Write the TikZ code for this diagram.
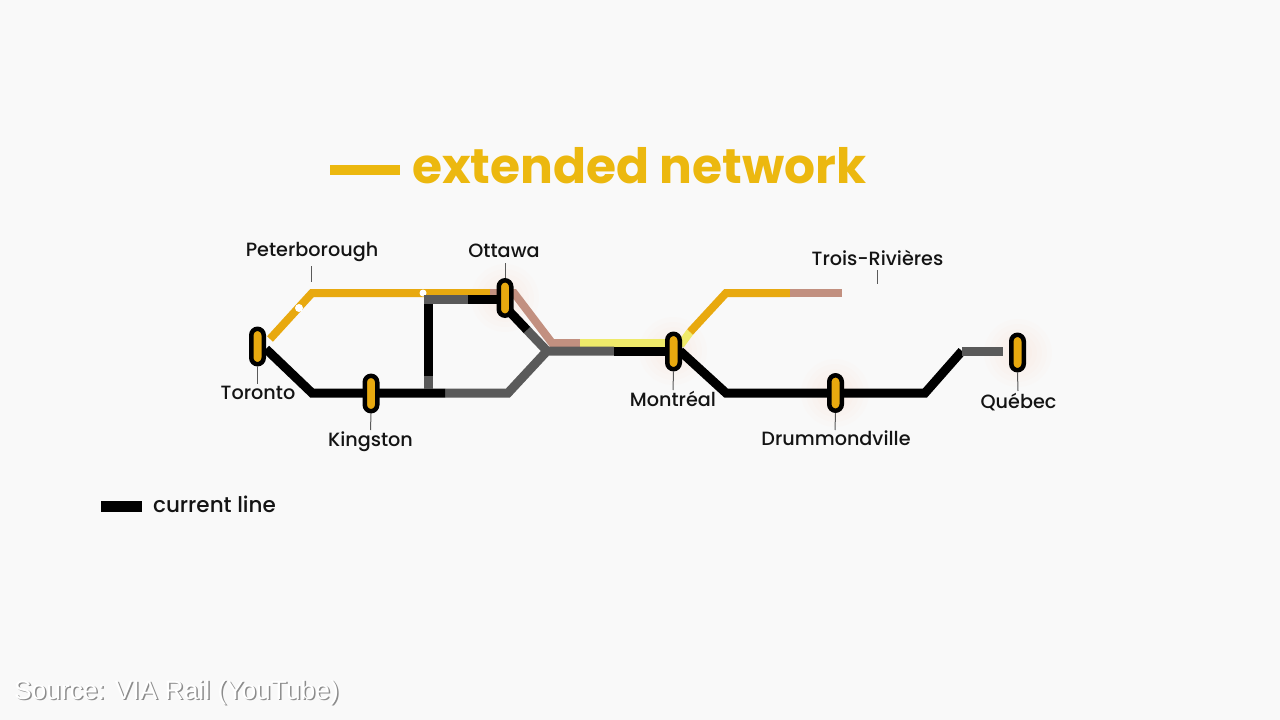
\documentclass[tikz,border=0pt]{standalone}
\usepackage{fontspec}
\setmainfont{Poppins}
\newfontfamily\medfont{Poppins Medium}
\newfontfamily\titlefont{Poppins}[UprightFont=*-Bold]
\newfontfamily\srcfont{Liberation Sans}
\definecolor{pagebg}{HTML}{F9F9F9}
\definecolor{gold}{HTML}{E8A90F}
\definecolor{titlegold}{HTML}{ECB80F}
\definecolor{pinkish}{HTML}{C29080}
\definecolor{paleyellow}{HTML}{EFEA6A}
\definecolor{greyline}{HTML}{5A5A5A}
\definecolor{ink}{HTML}{141414}
\tikzset{
  x=1pt,y=-1pt,
  rail/.style={line width=8pt,line join=miter},
  blackrail/.style={rail,draw=black,line width=9pt},
  greyrail/.style={rail,draw=greyline,line width=9pt},
  goldrail/.style={rail,draw=gold},
  pinkrail/.style={rail,draw=pinkish},
  yellowrail/.style={rail,draw=paleyellow},
  station/.style={draw=black,line width=4.5pt,fill=gold,rounded corners=6.5pt,minimum width=12.5pt,minimum height=35.5pt,inner sep=0pt},
  place/.style={text=ink,font=\medfont\fontsize{19.2}{22}\selectfont,inner sep=0pt,anchor=base},
  tick/.style={draw=greyline,line width=1pt},
  halo/.style={fill=orange,opacity=0.012,draw=none,circle,minimum size=#1,inner sep=0pt},
  spot/.style={fill=white,draw=none,circle,minimum size=8pt,inner sep=0pt}
}
\begin{document}
\begin{tikzpicture}
\fill[pagebg] (0,0) rectangle (1280,720);
\useasboundingbox (0,0) rectangle (1280,720);
% coordinates
\coordinate (tA) at (266,349);
\coordinate (tB) at (312,393);
\coordinate (jK) at (445,393);
\coordinate (jC) at (508,393);
\coordinate (jM) at (547,351);
\coordinate (mA) at (614,351);
\coordinate (mB) at (680,351);
\coordinate (dA) at (726,393);
\coordinate (dB) at (925,393);
\coordinate (qA) at (962,351);
\coordinate (qB) at (1003,351);
\coordinate (vG) at (428,389);
\coordinate (vH) at (428,376);
\coordinate (vT) at (428,299);
\coordinate (oG) at (468,299);
\coordinate (oS) at (509,311);
\coordinate (oA) at (527,330);
\coordinate (gA) at (270,339);
\coordinate (gB) at (312,293);
\coordinate (gC) at (490,293);
\coordinate (pT) at (514,293);
\coordinate (pA) at (552,343);
\coordinate (pB) at (580,343);
\coordinate (yB) at (682,343);
\coordinate (yC) at (690,332);
\coordinate (rA) at (726,293);
\coordinate (rB) at (790,293);
\coordinate (rC) at (842,293);
% soft glows
\foreach \p/\n in {505/298,673/351,835/393,1018/353}{
  \foreach \s in {28,38,48,58,68}{\node[halo=\s] at (\p,\n) {};}
}
% extended network
\draw[goldrail] (gA) -- (gB) -- (gC);
\draw[pinkrail] (gC) -- (pT) -- (pA) -- (pB);
\draw[yellowrail] (pB) -- (yB) -- (yC);
\draw[goldrail] (yC) -- (rA) -- (rB);
\draw[pinkrail] (rB) -- (rC);
\node[spot] (s1) at (299,308) {};
\node[spot,minimum size=7pt] (s2) at (423,293) {};
% current line
\draw[greyrail] (jK) -- (jC) -- (jM) -- (mA);
\draw[greyrail] (oA) -- (jM);
\draw[blackrail] (tA) -- (tB) -- (jK);
\draw[greyrail] (vG) -- (vH);
\draw[blackrail] (vH) -- (vT);
\draw[greyrail] (423.5,299) -- (oG);
\draw[blackrail] (oG) -- (505,299);
\draw[blackrail] (oS) -- (oA);
\draw[blackrail] (mA) -- (673,351);
\draw[blackrail] (mB) -- (dA) -- (dB) -- (qA);
\draw[greyrail] (qA) -- (qB);
% stations
\node[station] (tor) at (257.5,346.5) {};
\node[station] (kin) at (371,393.5) {};
\node[station] (ott) at (505,298) {};
\node[station] (mon) at (673.5,351.5) {};
\node[station] (dru) at (835.5,393) {};
\node[station] (que) at (1017.5,352.5) {};
% labels
\node[place] (lPet) at (312,256) {Peterborough};
\node[place] (lOtt) at (504,257) {Ottawa};
\node[place] (lTor) at (258,399) {Toronto};
\node[place] (lKin) at (370.5,446) {Kingston};
\node[place] (lMon) at (673,406) {Montréal};
\node[place] (lDru) at (836,445) {Drummondville};
\node[place] (lQue) at (1018.5,408) {Québec};
\node[place] (lTro) at (877.5,265) {Trois-Rivières};
% ticks
\coordinate (k1) at (311.5,266); \coordinate (k2) at (311.5,282);
\draw[tick] (k1) -- (k2);
\coordinate (k3) at (877.5,270); \coordinate (k4) at (877.5,284);
\draw[tick] (k3) -- (k4);
\coordinate (k5) at (505,263);
\draw[tick] (k5) -- (ott.north);
\coordinate (k6) at (257.5,384);
\draw[tick] (tor.south) -- (k6);
\coordinate (k7) at (370.5,430);
\draw[tick] (kin.south) -- (k7);
\coordinate (k8) at (673,390);
\draw[tick] (mon.south) -- (k8);
\coordinate (k9) at (835,430);
\draw[tick] (dru.south) -- (k9);
\coordinate (k10) at (1018,391);
\draw[tick] (que.south) -- (k10);
% title and legend
\coordinate (tbA) at (330,170); \coordinate (tbB) at (400,170);
\draw[draw=titlegold,line width=10pt] (tbA) -- (tbB);
\node[text=titlegold,font=\titlefont\fontsize{48.7}{52}\selectfont,inner sep=0pt,anchor=base] (title) at (639.5,183) {extended network};
\coordinate (lbA) at (101,506); \coordinate (lbB) at (142,506);
\draw[draw=black,line width=11pt] (lbA) -- (lbB);
\node[place,font=\medfont\fontsize{21.5}{24}\selectfont] (legend) at (214.5,512) {current line};
% source
\node[inner sep=0pt,anchor=center,font=\srcfont\fontsize{26.4}{28}\selectfont] (source) at (176.5,693)
 {\rlap{\kern1.5pt\raisebox{-1.5pt}{\textcolor{black!45}{Source: VIA Rail (YouTube)}}}\textcolor{white}{Source: VIA Rail (YouTube)}};
\end{tikzpicture}
\end{document}
